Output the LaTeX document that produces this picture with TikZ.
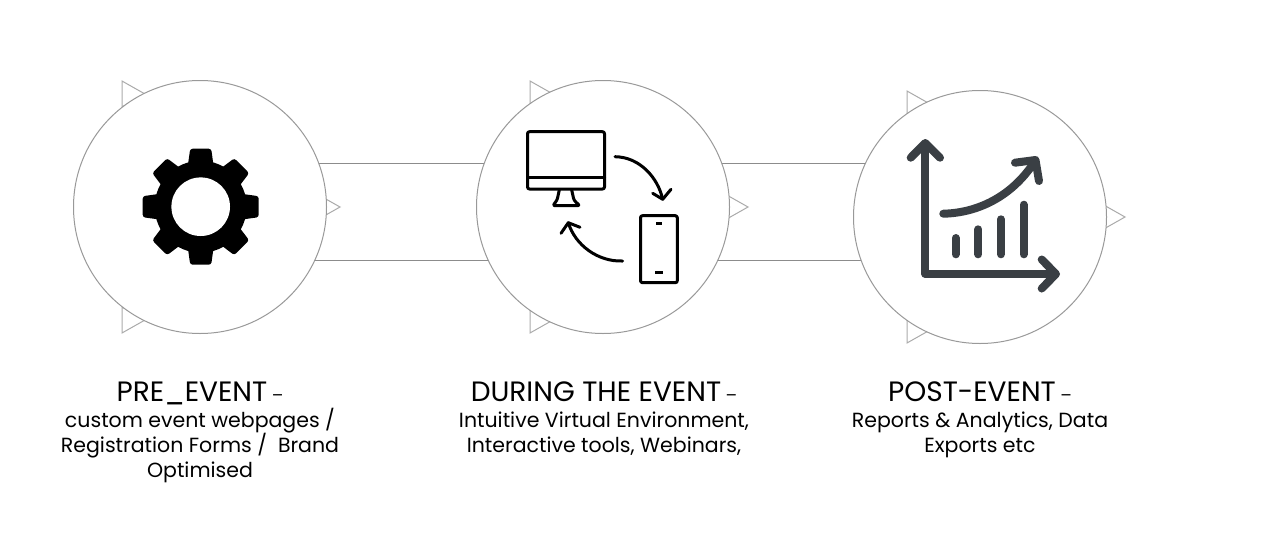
\documentclass[tikz,border=0pt]{standalone}
\usepackage{fontspec}
\setmainfont{Poppins}
\tikzset{
  x=1pt,y=-1pt,
  ring/.style={circle,draw=ringgray,line width=1pt,fill=white,minimum size=253pt,inner sep=0pt},
  rail/.style={draw=railgray,line width=1pt},
  tick/.style={draw=trigray,line width=1pt,fill=white,line join=miter},
  stepcaption/.style={anchor=north,align=center,inner sep=0pt,text=black,font=\fontsize{20.5}{25}\selectfont},
  screenline/.style={draw=black,line width=3pt,line join=round,line cap=round},
  chartline/.style={draw=slate,line width=8pt,line join=round,line cap=round},
}
\definecolor{ringgray}{HTML}{999999}
\definecolor{railgray}{HTML}{8C8C8C}
\definecolor{trigray}{HTML}{ABABAB}
\definecolor{slate}{HTML}{3A3F44}
\newcommand{\heading}[2]{{\fontsize{28}{30}\selectfont #1}{\fontsize{17}{30}\selectfont\ #2}}
\begin{document}
\begin{tikzpicture}
\useasboundingbox (0,0) rectangle (1280,536);
\fill[white] (0,0) rectangle (1280,536);

% small pointers peeking out behind each ring
\foreach \ax/\ay in {122/81,122/307,317/194,530/81,530/307,725/194,907/91,907/317,1102/204}
  \draw[tick] (\ax,\ay) -- (\ax,\ay+26) -- (\ax+23,\ay+13) -- cycle;

% rings are placed first as coordinates so the rails can run behind them
\coordinate (c1) at (200,207);
\coordinate (c2) at (603,207);
\coordinate (c3) at (980,217);
\coordinate (upper) at (0,163.5);
\coordinate (lower) at (0,260.5);
\draw[rail] (c1 |- upper) -- (c2 |- upper);
\draw[rail] (c1 |- lower) -- (c2 |- lower);
\draw[rail] (c2 |- upper) -- (c3 |- upper);
\draw[rail] (c2 |- lower) -- (c3 |- lower);

\node[ring] (ring1) at (c1) {};
\node[ring] (ring2) at (c2) {};
\node[ring] (ring3) at (c3) {};

% gear
\begin{scope}[shift={(200.7,206.7)}]
  \fill[black] (0,0) circle[radius=46];
  \foreach \a in {0,45,...,315}
    \fill[black,rounded corners=2.5pt,rotate=\a] (-13,-40) -- (-10.5,-58) -- (10.5,-58) -- (13,-40) -- cycle;
  \fill[white] (0,0) circle[radius=29.3];
\end{scope}

% desktop monitor
\draw[screenline,rounded corners=2pt] (527.5,131.7) rectangle (604.5,189);
\draw[screenline] (527.5,177) -- (604.5,177);
\draw[screenline,rounded corners=2.5pt] (559.3,190) -- (557,200.5) -- (552.5,205.7) -- (580,205.7) -- (574,200.5) -- (571.7,190);
% phone
\draw[screenline,rounded corners=2pt] (640.5,215.7) rectangle (677.3,282.7);
\draw[screenline,line cap=butt] (656,223.7) -- (662,223.7);
\draw[screenline,line cap=butt] (655,272.3) -- (663,272.3);
% exchange arrows
\draw[screenline] (615,156.7) .. controls (640,157) and (658,178) .. (662.7,199.3);
\draw[screenline] (652.7,193.3) -- (662.7,199.3) -- (671,189.3);
\draw[screenline] (622.7,261) .. controls (598,262) and (575,245) .. (568.3,222.7);
\draw[screenline] (561,233.3) -- (568.3,222.7) -- (580,227.3);

% analytics chart
\draw[chartline,line cap=round] (910.7,157.7) -- (925.3,143) -- (940,157.7);
\draw[chartline,line cap=butt] (925.3,143) -- (925.3,274) -- (1056,274);
\draw[chartline] (1041.7,259.5) -- (1056,274) -- (1041.7,288.5);
\foreach \bx/\btop in {955.7/238,978.3/229.3,1001/219.3,1023.7/204.7}
  \draw[chartline] (\bx,\btop) -- (\bx,254.3);
\draw[chartline] (943.3,213.7) .. controls (977,213) and (1012,197) .. (1035,161);
\draw[chartline] (1015,162.7) -- (1035.5,160) -- (1039,181);

% captions
\node[stepcaption] (cap1) at (200,382) {\heading{PRE\_EVENT}{–}\\[1pt]custom event webpages /\\Registration Forms /\ \ Brand\\Optimised};
\node[stepcaption] (cap2) at (604,382) {\heading{DURING THE EVENT}{–}\\[1pt]Intuitive Virtual Environment,\\Interactive tools, Webinars,};
\node[stepcaption] (cap3) at (980,382) {\heading{POST-EVENT}{–}\\[1pt]Reports \& Analytics, Data\\Exports etc};
\end{tikzpicture}
\end{document}
